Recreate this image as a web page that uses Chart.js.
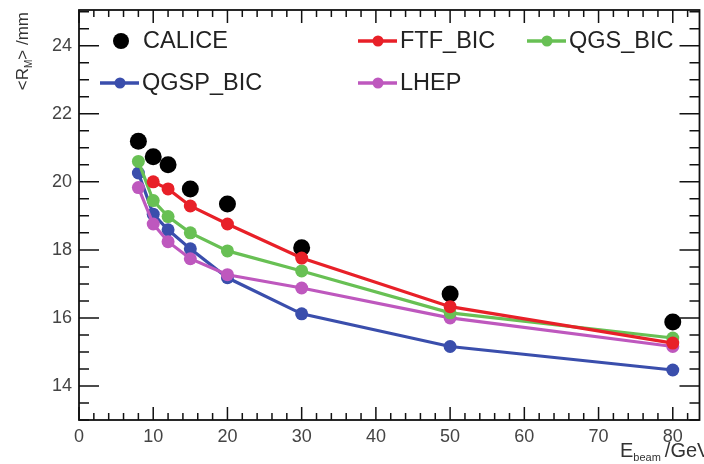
<!DOCTYPE html>
<html>
<head>
<meta charset="utf-8">
<script src="https://cdn.jsdelivr.net/npm/chart.js@4"></script>
<style>
  html, body { margin: 0; padding: 0; background: #fff; overflow: hidden; }
  #wrap { position: relative; width: 704px; height: 464px; overflow: hidden; }
</style>
</head>
<body>
<!-- canvas is a little wider than the page so the right frame sits on the edge -->
<div id="wrap"><canvas id="radiusChart" width="708" height="464"></canvas></div>
<script>
// Beam energies (GeV) and mean shower radius <R_M> (mm) per sample
const energies = [8, 10, 12, 15, 20, 30, 50, 80];
const caliceR  = [21.19, 20.74, 20.50, 19.79, 19.35, 18.06, 16.70, 15.88];
const ftfBicR  = [null, 20.00, 19.79, 19.29, 18.76, 17.76, 16.33, 15.26];
const qgsBicR  = [20.60, 19.45, 18.98, 18.50, 17.97, 17.38, 16.15, 15.41];
const qgspBicR = [20.26, 19.05, 18.59, 18.03, 17.18, 16.12, 15.16, 14.47];
const lhepR    = [19.83, 18.76, 18.24, 17.74, 17.27, 16.88, 16.00, 15.16];

// Axis ticks
const xTicks = [0, 10, 20, 30, 40, 50, 60, 70, 80];
const yTicks = [14, 16, 18, 20, 22, 24];

const COLORS = {
    calice: '#000000',
    ftf: 'rgb(232, 32, 40)',
    qgs: 'rgb(104, 192, 84)',
    qgsp: 'rgb(58, 78, 172)',
    lhep: 'rgb(190, 88, 190)'
};

const FONT = '"Liberation Sans", Arial, Helvetica, sans-serif';

function toPoints(values) {
    return energies
        .map((e, i) => ({ x: e, y: values[i] }))
        .filter(p => p.y !== null);
}

function modelSet(label, values, color, order) {
    return {
        label: label,
        data: toPoints(values),
        showLine: true,
        borderColor: color,
        backgroundColor: color,
        borderWidth: 3.2,
        pointRadius: 6.5,
        pointBorderWidth: 0,
        order: order
    };
}

// ROOT-style frame with inward major/minor ticks on all four sides
const frameTicks = {
    id: 'frameTicks',
    afterDraw(chart) {
        const { ctx, chartArea: a, scales } = chart;
        const xs = scales.x, ys = scales.y;
        ctx.save();
        ctx.strokeStyle = '#111';
        ctx.lineWidth = 1.8;
        ctx.strokeRect(a.left, a.top, a.right - a.left, a.bottom - a.top);
        ctx.lineWidth = 1.5;
        ctx.beginPath();
        for (let v = 0; v <= xs.max; v += 2) {
            const px = xs.getPixelForValue(v);
            const len = v % 10 === 0 ? 13 : 7;
            ctx.moveTo(px, a.bottom); ctx.lineTo(px, a.bottom - len);
            ctx.moveTo(px, a.top); ctx.lineTo(px, a.top + len);
        }
        for (let v = 13; v <= ys.max; v += 0.5) {
            const py = ys.getPixelForValue(v);
            const len = v % 2 === 0 ? 20 : 10;
            ctx.moveTo(a.left, py); ctx.lineTo(a.left + len, py);
            ctx.moveTo(a.right, py); ctx.lineTo(a.right - len, py);
        }
        ctx.stroke();

        // axis titles
        ctx.fillStyle = '#333';
        ctx.textBaseline = 'alphabetic';
        ctx.textAlign = 'left';
        let x = 620;
        const base = 457;
        ctx.font = '20px ' + FONT;
        ctx.fillText('E', x, base);
        x += ctx.measureText('E').width;
        ctx.font = '11px ' + FONT;
        ctx.fillText('beam', x, base + 4);
        x += ctx.measureText('beam').width + 4;
        ctx.font = '20px ' + FONT;
        ctx.fillText('/GeV', x, base);

        ctx.translate(28, 12);
        ctx.rotate(-Math.PI / 2);
        ctx.textAlign = 'right';
        ctx.font = '17px ' + FONT;
        const tail = '> /mm';
        const tailW = ctx.measureText(tail).width;
        ctx.fillText(tail, 0, 0);
        ctx.font = '10px ' + FONT;
        const subW = ctx.measureText('M').width;
        ctx.fillText('M', -tailW, 4);
        ctx.font = '17px ' + FONT;
        ctx.fillText('<R', -tailW - subW, 0);
        ctx.restore();
    }
};

// Legend drawn inside the frame, two rows
const innerLegend = {
    id: 'innerLegend',
    afterDatasetsDraw(chart) {
        const { ctx } = chart;
        const entries = [
            { ds: 0, x: 121, y: 41, line: false },
            { ds: 1, x: 378, y: 41, line: true },
            { ds: 2, x: 547, y: 41, line: true },
            { ds: 3, x: 120, y: 83, line: true },
            { ds: 4, x: 378, y: 83, line: true }
        ];
        ctx.save();
        entries.forEach(en => {
            const ds = chart.data.datasets[en.ds];
            ctx.fillStyle = ds.backgroundColor;
            ctx.strokeStyle = ds.borderColor;
            if (en.line) {
                ctx.lineWidth = 3.5;
                ctx.beginPath();
                ctx.moveTo(en.x - 20, en.y);
                ctx.lineTo(en.x + 19, en.y);
                ctx.stroke();
            }
            ctx.beginPath();
            ctx.arc(en.x, en.y, en.line ? 5.5 : 8, 0, Math.PI * 2);
            ctx.fill();
            ctx.fillStyle = '#222';
            ctx.font = '23.5px ' + FONT;
            ctx.textBaseline = 'middle';
            ctx.textAlign = 'left';
            ctx.fillText(ds.label, en.x + 22, en.y + 1);
        });
        ctx.restore();
    }
};

new Chart(document.getElementById('radiusChart'), {
    type: 'scatter',
    data: {
        datasets: [
            {
                label: 'CALICE',
                data: toPoints(caliceR),
                showLine: false,
                backgroundColor: COLORS.calice,
                borderColor: COLORS.calice,
                pointRadius: 8.5,
                pointBorderWidth: 0,
                order: 5
            },
            modelSet('FTF_BIC', ftfBicR, COLORS.ftf, 1),
            modelSet('QGS_BIC', qgsBicR, COLORS.qgs, 2),
            modelSet('QGSP_BIC', qgspBicR, COLORS.qgsp, 4),
            modelSet('LHEP', lhepR, COLORS.lhep, 3)
        ]
    },
    options: {
        responsive: false,
        animation: false,
        layout: { padding: { top: 10, right: 0, left: 0, bottom: 0 } },
        plugins: {
            legend: { display: false },
            tooltip: { enabled: false }
        },
        scales: {
            x: {
                type: 'linear',
                min: 0,
                max: 83.6,
                grid: { display: false, drawTicks: false },
                border: { display: false },
                afterBuildTicks: s => { s.ticks = xTicks.map(v => ({ value: v })); },
                afterFit: s => {
                    s.height = 44;
                    s.paddingLeft = 0;
                    s.paddingRight = 0;
                },
                ticks: {
                    padding: 6,
                    maxRotation: 0,
                    color: '#444',
                    font: { family: FONT, size: 18 }
                }
            },
            y: {
                type: 'linear',
                min: 13,
                max: 25.05,
                grid: { display: false, drawTicks: false },
                border: { display: false },
                afterBuildTicks: s => { s.ticks = yTicks.map(v => ({ value: v })); },
                afterFit: s => {
                    s.width = 79;
                    s.paddingTop = 0;
                    s.paddingBottom = 0;
                },
                ticks: {
                    padding: 7,
                    color: '#444',
                    font: { family: FONT, size: 18 }
                }
            }
        }
    },
    plugins: [frameTicks, innerLegend]
});
</script>
</body>
</html>
